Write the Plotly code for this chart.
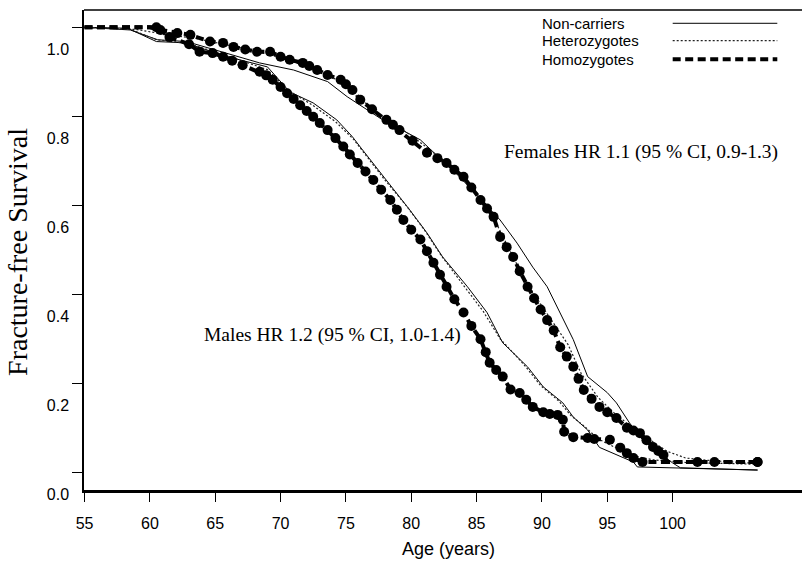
import plotly.graph_objects as go

# ---------------- data ----------------
age_ticks = [55, 60, 65, 70, 75, 80, 85, 90, 95, 100]
surv_ticks = [0.0, 0.2, 0.4, 0.6, 0.8, 1.0]
surv_tick_labels = ["0.0", "0.2", "0.4", "0.6", "0.8", "1.0"]

legend_names = ["Non-carriers", "Heterozygotes", "Homozygotes"]
males_label = "Males HR 1.2 (95 % CI, 1.0-1.4)"
females_label = "Females HR 1.1 (95 % CI, 0.9-1.3)"

# Males
male_non_age = [55, 58.3, 60.5, 62.8, 65.4, 69.0, 70.7, 72.5, 74.3, 75.5, 76.1, 78.1, 79.9, 81.2,
                82.4, 84.3, 85.8, 87.0, 88.9, 90.1, 91.6, 92.4, 93.5, 94.4, 95.4, 97.0, 97.3, 100.3, 106.5]
male_non_surv = [1.0, 0.998, 0.968, 0.965, 0.938, 0.911, 0.855, 0.830, 0.792, 0.754, 0.731, 0.657, 0.589, 0.538,
                 0.484, 0.417, 0.359, 0.291, 0.237, 0.192, 0.156, 0.124, 0.095, 0.056, 0.043, 0.023, 0.012, 0.010, 0.005]

male_het_age = [55, 58.5, 60.5, 63.0, 65.5, 69.0, 70.6, 72.4, 74.2, 75.6, 77.9, 79.6, 81.0, 82.3, 84.0,
                85.5, 86.8, 88.6, 89.9, 91.3, 92.2, 93.3, 94.3, 95.4, 96.8, 98.5, 101.0, 106.5]
male_het_surv = [1.0, 0.996, 0.972, 0.963, 0.940, 0.905, 0.858, 0.826, 0.788, 0.748, 0.660, 0.600, 0.545, 0.487, 0.420,
                 0.362, 0.300, 0.243, 0.195, 0.160, 0.128, 0.102, 0.075, 0.058, 0.038, 0.028, 0.022, 0.018]

male_hom_age = [55, 60.0, 60.5, 61.5, 63.0, 63.8, 64.8, 65.6, 66.3, 67.1, 68.4, 68.9, 69.4, 70.0, 70.5, 71.0,
                71.5, 72.0, 72.5, 73.0, 73.6, 74.2, 74.8, 75.3, 75.9, 76.5, 77.1, 77.7, 78.4, 78.9, 79.4,
                80.0, 80.7, 81.2, 81.7, 82.2, 82.7, 83.3, 84.0, 84.6, 85.3, 85.7, 86.0, 86.5, 87.0, 87.6,
                88.3, 88.8, 89.3, 90.1, 90.6, 91.2, 91.6, 91.7, 92.4, 93.5, 94.0, 95.2, 96.0, 96.5, 97.0,
                97.7, 106.5]
male_hom_surv = [1.0, 1.0, 1.0, 0.978, 0.962, 0.945, 0.942, 0.934, 0.925, 0.915, 0.900, 0.892, 0.882, 0.866, 0.852, 0.839,
                 0.825, 0.812, 0.799, 0.785, 0.769, 0.751, 0.732, 0.714, 0.695, 0.676, 0.657, 0.635, 0.612, 0.590, 0.567,
                 0.545, 0.523, 0.497, 0.471, 0.444, 0.417, 0.389, 0.359, 0.329, 0.299, 0.270, 0.246, 0.230, 0.215, 0.186,
                 0.178, 0.163, 0.147, 0.135, 0.131, 0.129, 0.118, 0.091, 0.079, 0.077, 0.075, 0.073, 0.055, 0.043, 0.032,
                 0.023, 0.023]

# Females
female_non_age = [55, 58.5, 60.6, 62.8, 68.4, 71.0, 73.6, 75.1, 77.6, 80.7, 83.7, 86.8, 88.1, 89.3, 90.4,
                  91.4, 92.4, 93.5, 95.0, 95.7, 96.7, 97.7, 99.0, 100.0, 100.6, 106.5]
female_non_surv = [1.0, 0.994, 0.972, 0.968, 0.920, 0.904, 0.878, 0.844, 0.796, 0.747, 0.664, 0.567, 0.515, 0.461, 0.417,
                   0.359, 0.298, 0.215, 0.179, 0.156, 0.111, 0.073, 0.043, 0.021, 0.010, 0.005]

female_het_age = [55, 59.0, 61.0, 63.5, 66.0, 68.0, 70.0, 72.0, 74.0, 76.0, 78.0, 80.0, 82.0, 84.0, 85.4, 86.5,
                  87.6, 88.7, 89.9, 91.0, 92.0, 93.0, 94.3, 95.5, 96.6, 97.6, 98.6, 99.6, 101.0, 103.0, 106.5]
female_het_surv = [1.0, 0.995, 0.985, 0.975, 0.960, 0.947, 0.932, 0.912, 0.888, 0.842, 0.795, 0.757, 0.712, 0.666, 0.614, 0.560,
                   0.495, 0.432, 0.378, 0.330, 0.287, 0.222, 0.168, 0.134, 0.108, 0.088, 0.066, 0.047, 0.032, 0.026, 0.020]

female_hom_age = [55, 60.0, 60.8, 62.1, 63.1, 64.6, 65.6, 66.4, 67.3, 68.2, 69.2, 70.0, 70.7, 71.7, 72.2, 72.8,
                  73.6, 74.6, 75.0, 75.5, 76.1, 77.0, 78.1, 78.6, 79.1, 80.1, 81.2, 82.0, 82.7, 83.3, 84.0,
                  84.6, 85.3, 85.8, 86.3, 86.8, 87.3, 87.8, 88.3, 88.9, 89.4, 89.9, 90.4, 90.9, 91.4, 91.9,
                  92.4, 92.8, 93.2, 93.8, 94.4, 95.0, 95.7, 96.5, 97.0, 97.5, 98.0, 98.5, 98.9, 99.3, 99.6,
                  101.9, 103.2, 106.5]
female_hom_surv = [1.0, 1.0, 0.994, 0.987, 0.983, 0.968, 0.965, 0.956, 0.950, 0.945, 0.945, 0.934, 0.927, 0.920, 0.913, 0.904,
                   0.893, 0.882, 0.872, 0.859, 0.837, 0.816, 0.792, 0.781, 0.769, 0.745, 0.718, 0.706, 0.695, 0.680, 0.664,
                   0.640, 0.612, 0.593, 0.574, 0.529, 0.506, 0.484, 0.452, 0.417, 0.391, 0.366, 0.342, 0.319, 0.281, 0.260,
                   0.237, 0.210, 0.185, 0.165, 0.147, 0.135, 0.122, 0.100, 0.094, 0.088, 0.072, 0.057, 0.048, 0.039, 0.023,
                   0.023, 0.023, 0.023]

# ages at which the homozygote curves carry filled dots
male_dot_range = (60.4, 97.8)
female_dot_range = (60.7, 99.4)
tail_dot_ages = [101.9, 103.2, 106.5]

# ---------------- styles ----------------
DOT = 10
HOM_LINE = dict(color="black", width=4, dash="8px,4.5px")
NON_LINE = dict(color="black", width=1)
HET_LINE = dict(color="#222", width=1.2, dash="2px,2px")


def dot_sizes(ages, rng):
    return [DOT if (rng[0] <= a <= rng[1]) or (a in tail_dot_ages) else 0 for a in ages]


fig = go.Figure()
for ages, surv in [(male_non_age, male_non_surv), (female_non_age, female_non_surv)]:
    fig.add_trace(go.Scatter(x=ages, y=surv, mode="lines", line=NON_LINE, showlegend=False))
for ages, surv in [(male_het_age, male_het_surv), (female_het_age, female_het_surv)]:
    fig.add_trace(go.Scatter(x=ages, y=surv, mode="lines", line=HET_LINE, showlegend=False))
for ages, surv, rng in [(male_hom_age, male_hom_surv, male_dot_range),
                        (female_hom_age, female_hom_surv, female_dot_range)]:
    fig.add_trace(go.Scatter(x=ages, y=surv, mode="lines+markers", line=HOM_LINE,
                             marker=dict(color="black", size=dot_sizes(ages, rng), symbol="circle",
                                         opacity=1, line=dict(width=0)),
                             showlegend=False))

W, H = 802, 565
L, R, T, B = 84, 0, 10, 75

fig.update_layout(
    width=W, height=H,
    margin=dict(l=L, r=R, t=T, b=B),
    paper_bgcolor="white", plot_bgcolor="white",
    showlegend=False,
    font=dict(family="Liberation Sans, Arial, sans-serif", color="black"),
)
fig.update_xaxes(
    range=[54.96, 109.9], tickvals=age_ticks, ticktext=[str(a) for a in age_ticks],
    ticks="outside", ticklen=9, tickwidth=1, tickcolor="black",
    showline=True, linecolor="black", linewidth=2.5,
    showgrid=False, zeroline=False,
    tickfont=dict(size=16, family="Liberation Sans, Arial, sans-serif"),
    ticklabelstandoff=8,
)
fig.update_yaxes(
    range=[-0.0398, 1.0389], tickvals=surv_ticks, ticktext=surv_tick_labels,
    ticks="outside", ticklen=10, tickwidth=1, tickcolor="black",
    showline=True, linecolor="black", linewidth=1.5,
    showgrid=False, zeroline=False,
    tickfont=dict(size=16, family="Liberation Sans, Arial, sans-serif"),
    ticklabelshift=22, ticklabelstandoff=0, ticklabeloverflow="allow",
)

# top frame line
fig.add_shape(type="line", xref="paper", yref="paper", x0=0, x1=1, y0=1, y1=1,
              line=dict(color="black", width=1.3))

# axis titles
fig.add_annotation(text="Age (years)", xref="paper", yref="paper", x=0.507, y=-0.1219,
                   showarrow=False, xanchor="center", yanchor="middle",
                   font=dict(size=18, family="Liberation Sans, Arial, sans-serif"))
fig.add_annotation(text="Fracture-free Survival", xref="paper", yref="paper", x=-0.0919, y=0.496,
                   showarrow=False, textangle=-90, xanchor="center", yanchor="middle",
                   font=dict(size=28, family="Liberation Serif, Times New Roman, serif"))

# in-plot labels
fig.add_annotation(text=males_label, x=63.97, y=0.3085, xref="x", yref="y", showarrow=False,
                   xanchor="left", yanchor="middle",
                   font=dict(size=19.5, family="Liberation Serif, Times New Roman, serif"))
fig.add_annotation(text=females_label, x=86.92, y=0.7204, xref="x", yref="y", showarrow=False,
                   xanchor="left", yanchor="middle",
                   font=dict(size=19.5, family="Liberation Serif, Times New Roman, serif"))

# legend (text then line sample)
leg_y = [0.9723, 0.936, 0.8973]
leg_lines = [NON_LINE, HET_LINE, HOM_LINE]
for name, yy, ln in zip(legend_names, leg_y, leg_lines):
    fig.add_annotation(text=name, xref="paper", yref="paper", x=0.635, y=yy, showarrow=False,
                       xanchor="left", yanchor="middle",
                       font=dict(size=15, family="Liberation Sans, Arial, sans-serif"))
    fig.add_shape(type="line", xref="paper", yref="paper", x0=0.8199, x1=0.9656, y0=yy, y1=yy,
                  line=ln)

fig.write_html("out.html")
